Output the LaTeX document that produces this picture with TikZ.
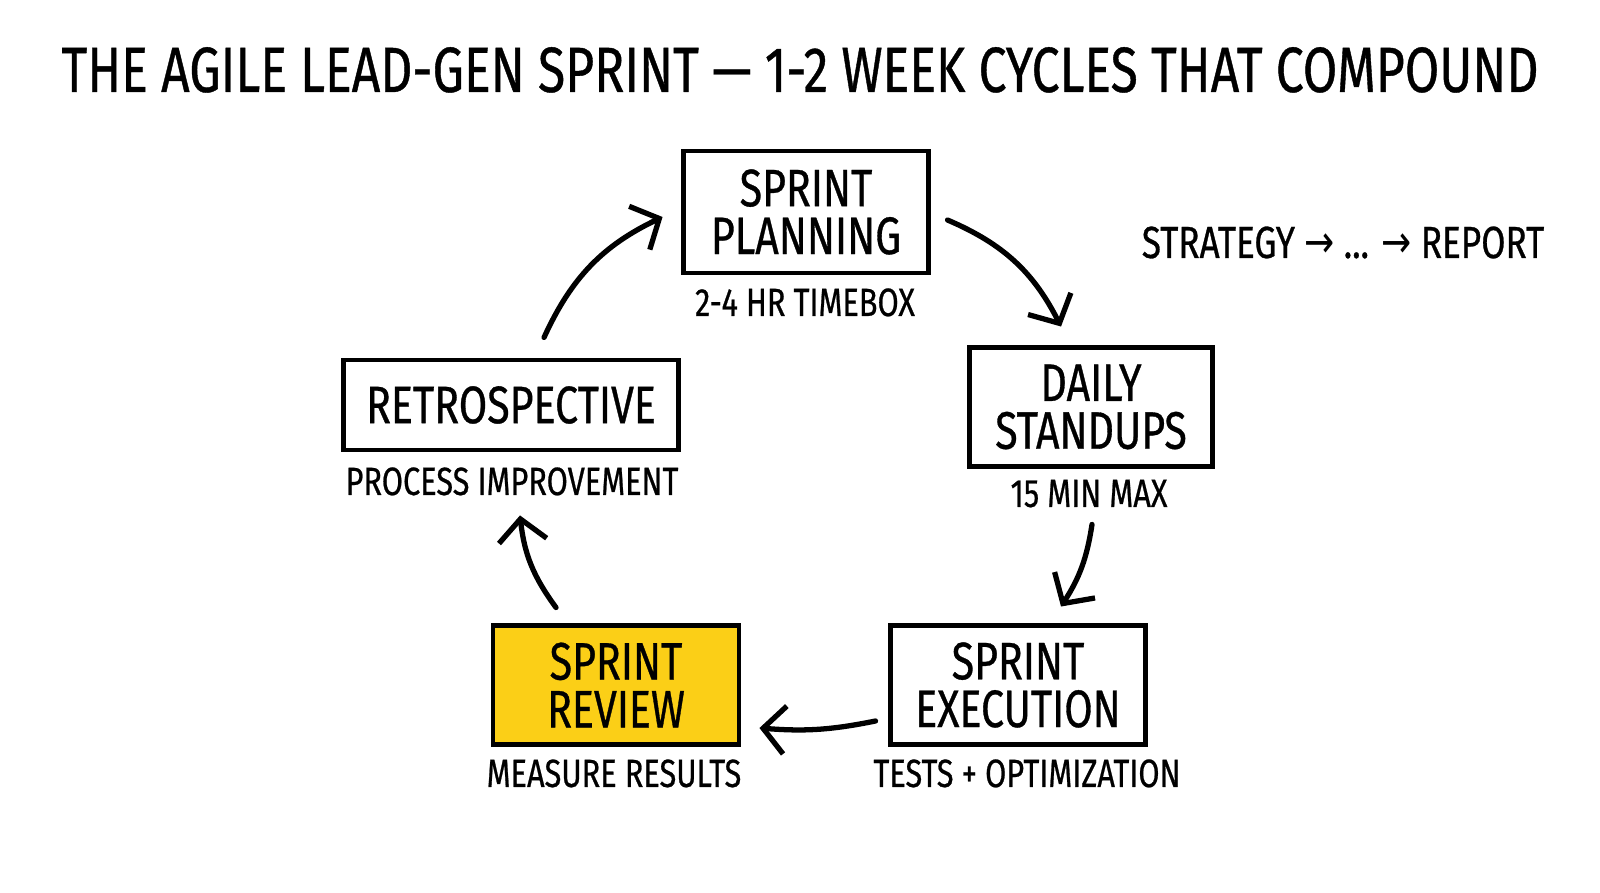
\documentclass[tikz,border=0pt]{standalone}
\usepackage{fontspec}
\setmainfont{Fira Sans}[FakeStretch=0.78,FakeBold=0.6]
\newfontfamily\arrowfont{DejaVu Sans}[FakeStretch=0.8]
\definecolor{ReviewGold}{HTML}{FBCF17}
\usepackage{tikz}
\usetikzlibrary{arrows.meta,positioning}

\tikzset{
  stage/.style={draw,line width=1.4pt,align=center,inner sep=0pt,
    font=\fontsize{15}{13.6}\selectfont},
  note/.style={anchor=base,inner sep=0pt,font=\fontsize{11.2}{12}\selectfont},
  flow/.style={line width=1.5pt,line cap=round,
    -{Straight Barb[length=2.2mm,width=4.8mm,line width=1.5pt]}},
}

\begin{document}
\begin{tikzpicture}
  \useasboundingbox[fill=white] (0,0) rectangle (16,8.93);

  % title
  \node[anchor=base,inner sep=0pt,font=\fontsize{18.2}{20}\selectfont] (title) at (8,8.01)
    {THE AGILE LEAD-GEN SPRINT — 1-2 WEEK CYCLES THAT COMPOUND};
  \node[anchor=base,inner sep=0pt,font=\fontsize{12.8}{14}\selectfont] (path) at (13.43,6.35)
    {STRATEGY {\arrowfont →} ... {\arrowfont →} REPORT};

  % the five stages
  \node[stage,minimum width=2.45cm,minimum height=1.22cm] (plan) at (8.06,6.81) {SPRINT\\PLANNING};
  \node[stage,minimum width=2.43cm,minimum height=1.19cm] (stand) at (10.91,4.86) {DAILY\\STANDUPS};
  \node[stage,minimum width=2.55cm,minimum height=1.19cm] (exec) at (10.18,2.08) {SPRINT\\EXECUTION};
  \node[stage,fill=ReviewGold,minimum width=2.46cm,minimum height=1.19cm] (review) at (6.16,2.08) {SPRINT\\REVIEW};
  \node[stage,minimum width=3.35cm,minimum height=0.90cm] (retro) at (5.11,4.88) {RETROSPECTIVE};

  % labels under the boxes
  \node[note] (plansub) at (8.05,5.77) {2-4 HR TIMEBOX};
  \node[note] (standsub) at (10.89,3.86) {15 MIN MAX};
  \node[note] (execsub) at (10.27,1.06) {TESTS + OPTIMIZATION};
  \node[note] (reviewsub) at (6.14,1.06) {MEASURE RESULTS};
  \node[note] (retrosub) at (5.12,3.98) {PROCESS IMPROVEMENT};

  % the cycle
  \draw[flow] ([shift={(0.165,-0.08)}]plan.east) to[bend left=20] ([shift={(-0.30,0.185)}]stand.north);
  \draw[flow] ([shift={(0.01,-0.555)}]stand.south) to[bend left=12] ([shift={(0.43,0.165)}]exec.north);
  \draw[flow] ([shift={(-0.125,-0.36)}]exec.west) to[bend left=8] ([shift={(0.18,-0.43)}]review.east);
  \draw[flow] ([shift={(-0.6,0.155)}]review.north) to[bend left=15] ([shift={(0.09,-0.63)}]retro.south);
  \draw[flow] ([shift={(0.33,0.20)}]retro.north) to[bend left=20] ([shift={(-0.185,-0.05)}]plan.west);
\end{tikzpicture}
\end{document}
